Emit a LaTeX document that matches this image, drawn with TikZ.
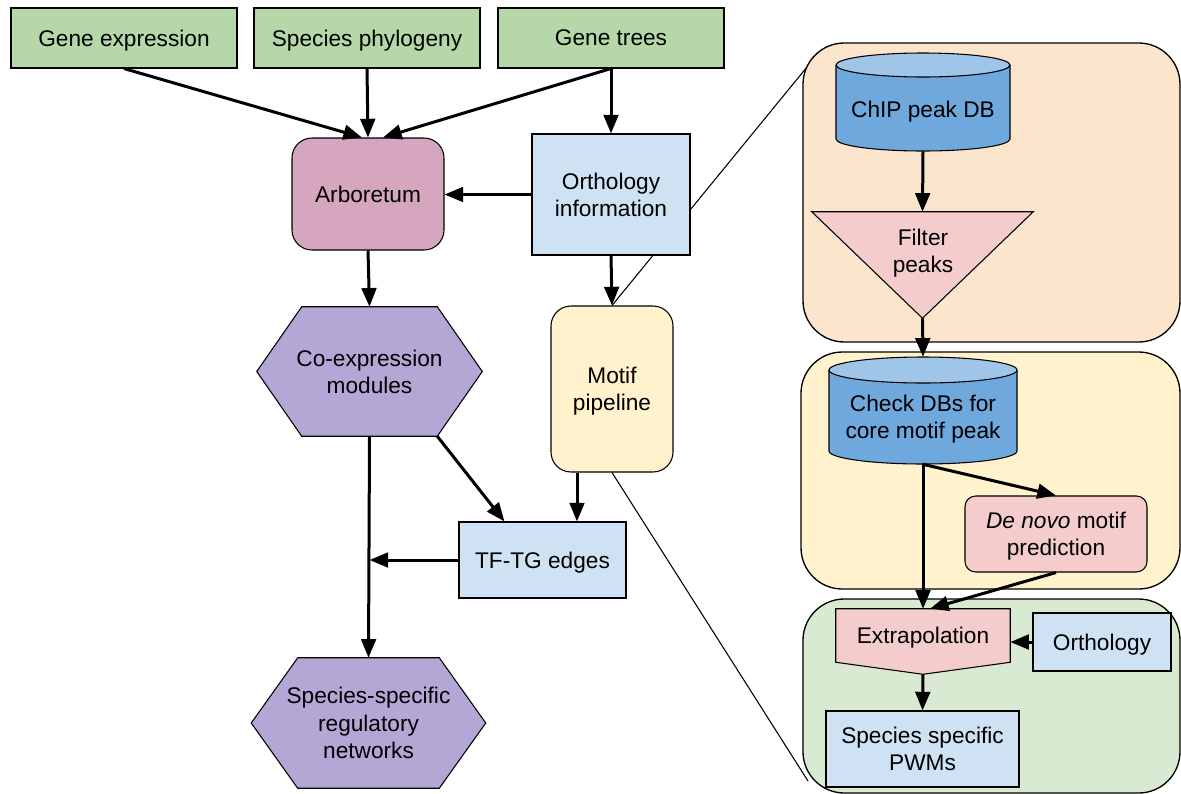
\documentclass[tikz,border=0pt]{standalone}
\usepackage{fontspec}
\setmainfont{Liberation Sans}
\usetikzlibrary{arrows.meta,calc}
\definecolor{inputgreen}{HTML}{B6D7A8}
\definecolor{arbpink}{HTML}{D5A6BD}
\definecolor{lightblue}{HTML}{CFE2F3}
\definecolor{hexpurple}{HTML}{B4A7D6}
\definecolor{motifyellow}{HTML}{FFF2CC}
\definecolor{panelorange}{HTML}{FCE5CD}
\definecolor{panelyellow}{HTML}{FFF2CC}
\definecolor{panelgreen}{HTML}{D9EAD3}
\definecolor{cylbody}{HTML}{6FA8DC}
\definecolor{cyltop}{HTML}{9FC5E8}
\definecolor{pinkfill}{HTML}{F4CCCC}
\begin{document}
\begin{tikzpicture}[x=0.75pt,y=-0.75pt,
  every node/.style={font=\fontsize{17}{20.5}\selectfont, align=center, inner sep=0pt, text depth=0pt},
  sz/.style 2 args={minimum width=#1*0.75pt, minimum height=#2*0.75pt},
  boxline/.style={draw=black, line width=0.8pt},
  roundbox/.style={boxline, rounded corners=15pt},
  flow/.style={line width=2.25pt, -{Triangle[length=14pt,width=11pt]}},
  zoomline/.style={line width=0.8pt},
  panel/.style={draw=black, line width=1pt, rounded corners=31pt},
]
\useasboundingbox (0,0) rectangle (1181,793);

% detail panels of the motif pipeline
\node[panel, fill=panelorange, sz={377}{299}] (panA) at (991.5,192.5) {};
\node[panel, fill=panelyellow, sz={379}{237}] (panB) at (990.5,470.5) {};
\node[panel, fill=panelgreen, sz={377}{194}] (panC) at (991.5,696) {};

% motif pipeline and the lines opening its detail view
\node[roundbox, fill=motifyellow, sz={122}{166}] (motif) at (612,389) {Motif\\pipeline};
\coordinate (zoomtop) at (807,67);
\coordinate (zoombot) at (808,781);
\draw[zoomline] (motif.north) -- (zoomtop);
\draw[zoomline] (motif.south) -- (zoombot);

% inputs
\node[boxline, fill=inputgreen, sz={226}{60}] (ge) at (124,38) {Gene expression};
\node[boxline, fill=inputgreen, sz={226}{60}] (sp) at (367,38) {Species phylogeny};
\node[boxline, fill=inputgreen, sz={226}{60}] (gt) at (611,38) {Gene trees};

\node[roundbox, fill=arbpink, sz={152}{112}] (arb) at (368,194) {Arboretum};
\node[boxline, fill=lightblue, sz={158}{121}] (orth) at (611,194.5) {Orthology\\information};

% co-expression modules (hexagon)
\node[sz={135}{129}] (coexp) at (369.5,371.5) {};
\draw[boxline, fill=hexpurple] (coexp.north west) -- (coexp.north east) -- ($(coexp.east)+(45,0)$)
  -- (coexp.south east) -- (coexp.south west) -- ($(coexp.west)+(-45,0)$) -- cycle;
\node (coexplabel) at (coexp) {Co-expression\\modules};

\node[boxline, fill=lightblue, sz={167}{76}] (tftg) at (542.5,560) {TF-TG edges};

% species-specific networks (hexagon)
\node[sz={141}{130}] (ssrn) at (368.5,723) {};
\draw[boxline, fill=hexpurple] (ssrn.north west) -- (ssrn.north east) -- ($(ssrn.east)+(46.5,0)$)
  -- (ssrn.south east) -- (ssrn.south west) -- ($(ssrn.west)+(-46.5,0)$) -- cycle;
\node (ssrnlabel) at (ssrn) {Species-specific\\regulatory\\networks};

% ChIP peak database (cylinder)
\node[sz={174}{98}] (chip) at (923,102) {};
\path[fill=cylbody] (836,65) -- (836,139) arc[start angle=180,end angle=360,x radius=65.25pt,y radius=9pt] -- (1010,65) -- cycle;
\draw[boxline] (836,65) -- (836,139) arc[start angle=180,end angle=360,x radius=65.25pt,y radius=9pt] -- (1010,65);
\draw[boxline, fill=cyltop] (923,65) ellipse[x radius=65.25pt,y radius=9pt];
\node (chiplabel) at (923,109) {ChIP peak DB};

% peak filter (funnel triangle)
\node[sz={221}{106}] (filt) at (922.5,265) {};
\draw[boxline, fill=pinkfill] (filt.north west) -- (filt.north east) -- (filt.south) -- cycle;
\node (filtlabel) at (923,251) {Filter\\peaks};

% motif database check (cylinder)
\node[sz={188}{107}] (chk) at (923,410.5) {};
\path[fill=cylbody] (829,370) -- (829,451) arc[start angle=180,end angle=360,x radius=70.5pt,y radius=9.75pt] -- (1017,370) -- cycle;
\draw[boxline] (829,370) -- (829,451) arc[start angle=180,end angle=360,x radius=70.5pt,y radius=9.75pt] -- (1017,370);
\draw[boxline, fill=cyltop] (923,370) ellipse[x radius=70.5pt,y radius=9.75pt];
\node (chklabel) at (923,417) {Check DBs for\\core motif peak};

\node[boxline, rounded corners=8pt, fill=pinkfill, sz={182}{76}] (denovo) at (1056,534) {\textit{De novo} motif\\prediction};

% extrapolation (pentagon)
\node[sz={174}{53}] (extrap) at (923,635.5) {};
\coordinate (extrapTip) at ($(extrap.south)+(0,12)$);
\draw[boxline, fill=pinkfill] (extrap.north west) -- (extrap.north east) -- (extrap.south east)
  -- (extrapTip) -- (extrap.south west) -- cycle;
\node (extraplabel) at (extrap) {Extrapolation};

\node[boxline, fill=lightblue, sz={138}{58}] (orth2) at (1102,642) {Orthology};
\node[boxline, fill=lightblue, sz={193}{76}] (pwm) at (922.5,749) {Species specific\\PWMs};

% connectors
\draw[flow] (ge.south) -- ($(arb.north)+(-6,0)$);
\draw[flow] (sp.south) -- (arb.north);
\draw[flow] (gt.south) -- ($(arb.north)+(15,0)$);
\draw[flow] (gt.south) -- (orth.north);
\draw[flow] (orth.west) -- (orth.west -| arb.east);
\draw[flow] (arb.south) -- (coexp.north);
\draw[flow] (orth.south) -- (motif.north);
\draw[flow] (coexp.south east) -- ($(tftg.north west)+(46,0)$);
\draw[flow] ($(motif.south)+(-35,0)$) -- ($(tftg.north)+(34.5,0)$);
\draw[flow] (coexp.south) -- (ssrn.north);
\draw[flow] (tftg.west) -- (tftg.west -| coexp.south);

\draw[flow] (chip.south) -- (filt.north);
\draw[flow] (filt.south) -- (chk.north);
\draw[flow] (chk.south) -- (extrap.north);
\draw[flow] (chk.south) -- (denovo.north);
\draw[flow] (denovo.south) -- ($(extrap.north)+(7,0)$);
\draw[flow] (orth2.west) -- (orth2.west -| extrap.east);
\draw[flow] (extrapTip) -- (pwm.north);
\end{tikzpicture}
\end{document}
